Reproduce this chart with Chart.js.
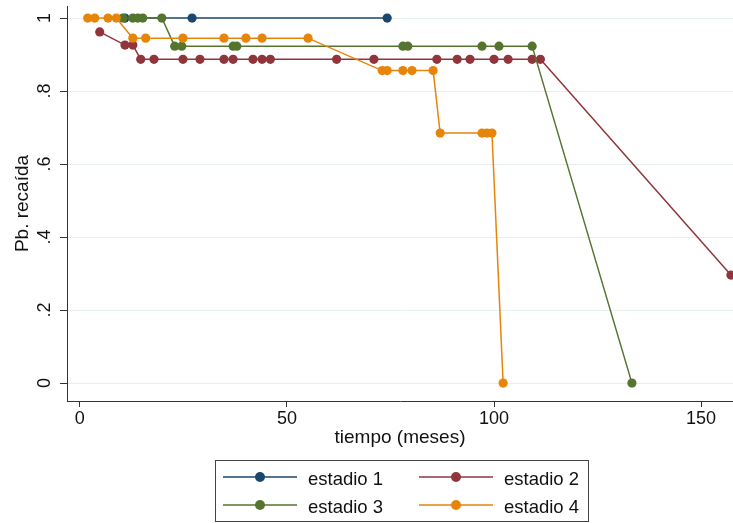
<!DOCTYPE html>
<html>
<head>
<meta charset="utf-8">
<script src="https://cdn.jsdelivr.net/npm/chart.js@4"></script>
<style>
  html, body { margin: 0; padding: 0; background: #fff; }
  canvas { display: block; }
</style>
</head>
<body>
<canvas id="c" width="733" height="523"></canvas>
<script>
// ---- data ----
const seriesNames = ['estadio 1', 'estadio 2', 'estadio 3', 'estadio 4'];

const est1Time = [10.9, 27.1, 74.2];
const est1Surv = [1, 1, 1];

const est2Time = [4.8, 10.9, 12.8, 14.7, 17.9, 24.9, 29.0, 34.8, 37.0, 41.8, 44.0, 46.0, 62.0, 71.0, 86.2, 91.1, 94.2, 100.0, 103.4, 109.2, 111.2, 157.2];
const est2Surv = [0.962, 0.926, 0.926, 0.887, 0.887, 0.887, 0.887, 0.887, 0.887, 0.887, 0.887, 0.887, 0.887, 0.887, 0.887, 0.887, 0.887, 0.887, 0.887, 0.887, 0.887, 0.296];

const est3Time = [10.4, 12.8, 14.0, 15.2, 19.8, 22.9, 24.6, 37.0, 37.9, 78.0, 79.2, 97.1, 101.2, 109.2, 133.3];
const est3Surv = [1, 1, 1, 1, 1, 0.923, 0.923, 0.923, 0.923, 0.923, 0.923, 0.923, 0.923, 0.923, 0];

const est4Time = [1.9, 3.6, 6.8, 8.8, 12.8, 15.9, 24.9, 34.8, 40.1, 44.0, 55.1, 73.0, 74.2, 78.0, 80.2, 85.3, 87.0, 97.1, 98.3, 99.5, 102.2];
const est4Surv = [1, 1, 1, 1, 0.945, 0.945, 0.945, 0.945, 0.945, 0.945, 0.945, 0.856, 0.856, 0.856, 0.856, 0.856, 0.685, 0.685, 0.685, 0.685, 0];

const xTicks = [0, 50, 100, 150];
const yTicks = [0, 0.2, 0.4, 0.6, 0.8, 1];
const yTickLabels = ['0', '.2', '.4', '.6', '.8', '1'];

const xTitle = 'tiempo (meses)';
const yTitle = 'Pb. recaída';

// ---- styling ----
const colors = ['#1a476f', '#90353b', '#55752f', '#e6850a'];
const FONT = "'Liberation Sans', Arial, Helvetica, sans-serif";
const AXIS = '#333333';
const GRID = '#e6eef0';

const times = [est1Time, est2Time, est3Time, est4Time];
const survs = [est1Surv, est2Surv, est3Surv, est4Surv];

const datasets = seriesNames.map((name, i) => ({
  label: name,
  data: times[i].map((t, j) => ({ x: t, y: survs[i][j] })),
  borderColor: colors[i],
  backgroundColor: colors[i],
  pointBackgroundColor: colors[i],
  pointBorderWidth: 0,
  pointRadius: 4.6,
  pointHoverRadius: 4.6,
  borderWidth: 1.5,
  tension: 0,
  showLine: true,
  order: 4 - i
}));

const yLabelPlugin = {
  id: 'yLabels',
  afterDraw(chart) {
    const ys = chart.scales.y;
    const ctx = chart.ctx;
    ctx.save();
    ctx.fillStyle = '#111';
    ctx.font = '18px ' + FONT;
    ctx.textAlign = 'center';
    ctx.textBaseline = 'alphabetic';
    yTicks.forEach((v, i) => {
      ctx.save();
      ctx.translate(50, ys.getPixelForValue(v));
      ctx.rotate(-Math.PI / 2);
      ctx.fillText(yTickLabels[i], 0, 0);
      ctx.restore();
    });
    ctx.restore();
  }
};

const legendPlugin = {
  id: 'stataLegend',
  afterDraw(chart) {
    const ctx = chart.ctx;
    ctx.save();
    ctx.fillStyle = '#fff';
    ctx.fillRect(215.5, 460.5, 373, 61);
    ctx.strokeStyle = '#444';
    ctx.lineWidth = 1;
    ctx.strokeRect(215.5, 460.5, 373, 61);
    const cols = [223, 419];
    const rows = [477, 505];
    ctx.font = '18.5px ' + FONT;
    ctx.textAlign = 'left';
    ctx.textBaseline = 'alphabetic';
    seriesNames.forEach((name, i) => {
      const x0 = cols[i % 2];
      const y = rows[Math.floor(i / 2)];
      ctx.strokeStyle = colors[i];
      ctx.lineWidth = 1.5;
      ctx.beginPath();
      ctx.moveTo(x0, y);
      ctx.lineTo(x0 + 74, y);
      ctx.stroke();
      ctx.fillStyle = colors[i];
      ctx.beginPath();
      ctx.arc(x0 + 37, y, 5, 0, Math.PI * 2);
      ctx.fill();
      ctx.fillStyle = '#111';
      ctx.fillText(name, x0 + 85, y + 8);
    });
    ctx.restore();
  }
};

new Chart(document.getElementById('c'), {
  type: 'line',
  data: { datasets },
  options: {
    responsive: false,
    animation: false,
    devicePixelRatio: 1,
    layout: { autoPadding: false, padding: { top: 6, right: 0, bottom: 0, left: 0 } },
    plugins: { legend: { display: false }, tooltip: { enabled: false } },
    scales: {
      x: {
        type: 'linear',
        min: -3.1,
        max: 157.7,
        afterBuildTicks: s => { s.ticks = xTicks.map(v => ({ value: v })); },
        afterFit: s => { s.height = 122; },
        ticks: {
          color: '#111',
          font: { family: FONT, size: 18 },
          padding: 1,
          maxRotation: 0,
          includeBounds: false,
          callback: v => String(v)
        },
        grid: { drawOnChartArea: false, drawTicks: true, tickLength: 6, tickColor: AXIS, color: AXIS },
        border: { display: true, color: AXIS, width: 1 },
        title: {
          display: true,
          text: xTitle,
          color: '#111',
          font: { family: FONT, size: 19 },
          padding: { top: 0, bottom: 74 }
        }
      },
      y: {
        type: 'linear',
        min: -0.049,
        max: 1.033,
        afterBuildTicks: s => { s.ticks = yTicks.map(v => ({ value: v })); },
        afterFit: s => { s.width = 67; },
        ticks: { display: false },
        grid: { color: GRID, lineWidth: 1, drawTicks: true, tickLength: 7, tickColor: AXIS },
        border: { display: true, color: AXIS, width: 1 },
        title: {
          display: true,
          text: yTitle,
          color: '#111',
          font: { family: FONT, size: 19 },
          padding: { top: 11.7, bottom: 0 }
        }
      }
    }
  },
  plugins: [yLabelPlugin, legendPlugin]
});
</script>
</body>
</html>
